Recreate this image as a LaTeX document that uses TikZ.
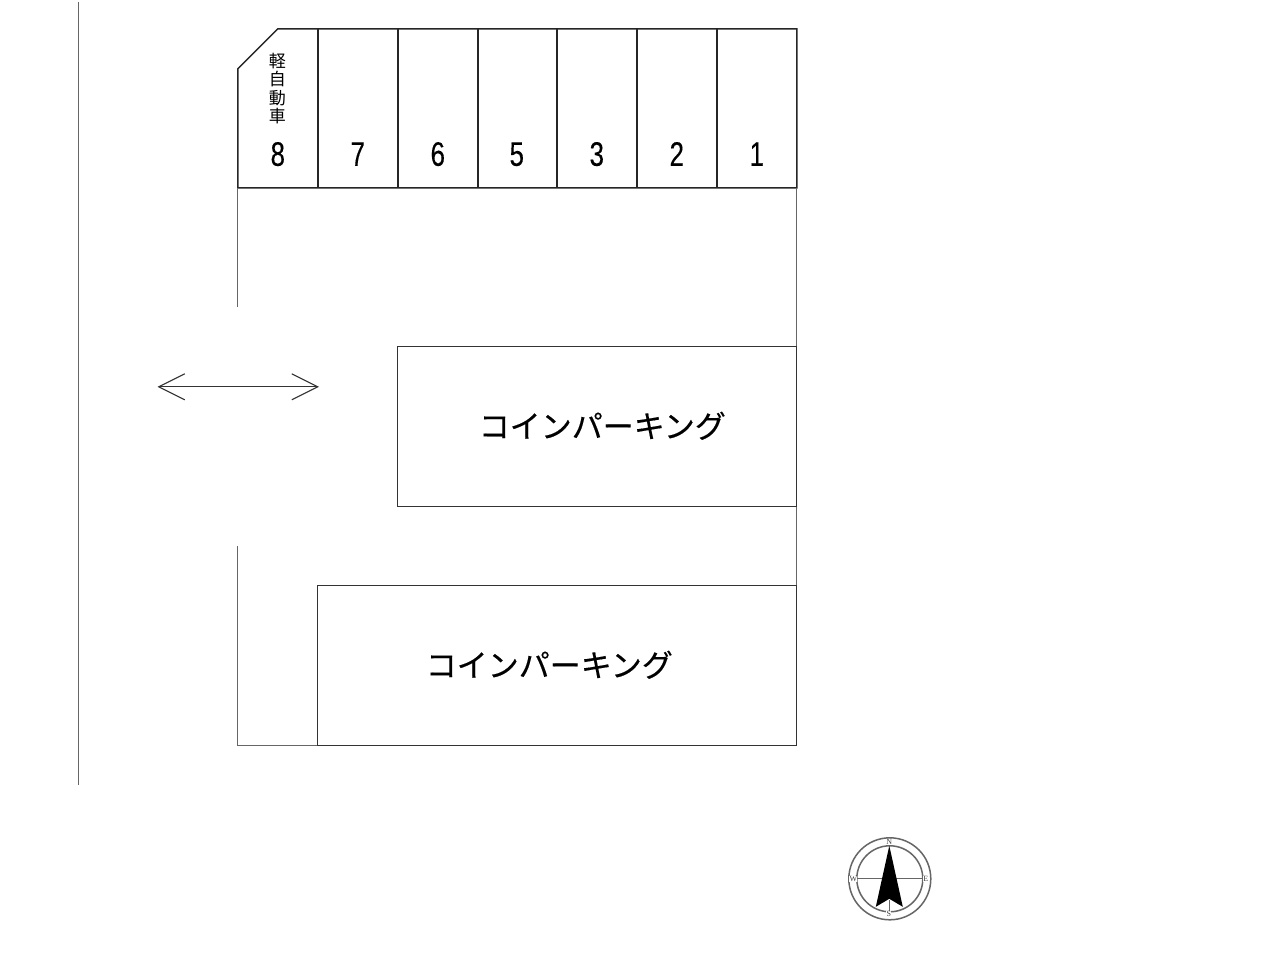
\documentclass[tikz,border=0pt]{standalone}
\usepackage{graphicx}
\usepackage{fontspec}
\setmainfont[FakeBold=0.3]{Liberation Sans}
\newfontfamily\cjk[FakeBold=0.35]{Noto Sans CJK JP}
\newfontfamily\cjkk{Noto Sans CJK JP}
\newfontfamily\cserif{Liberation Serif}
\tikzset{
 plan/.style={draw=black!80,line width=1.1pt},
 thin plan/.style={draw=black!60,line width=1.2pt},
 stall/.style={draw=black!85,line width=1.4pt},
 num/.style={inner sep=0pt,anchor=base,font=\fontsize{34}{34}\selectfont},
 kana/.style={inner sep=0pt,font=\cjk\fontsize{31}{31}\selectfont},
 kei/.style={inner sep=0pt,font=\cjkk\fontsize{17}{18.5}\selectfont,align=center},
 compass/.style={inner sep=.4pt,fill=white,font=\cserif\fontsize{8}{8}\selectfont,text=black!75},
}
\newcommand{\nar}[1]{\scalebox{.76}[1]{#1}}
\begin{document}
\begin{tikzpicture}[x=1pt,y=-1pt]
\useasboundingbox (0.2,0.2) rectangle (1278.2,956.2);
\fill[white] (0.2,0.2) rectangle (1278.2,956.2);
% road edge
\draw[thin plan] (79,2) -- (79,785);
% stalls
\draw[stall] (238,69) -- (278,29) -- (797,29) -- (797,188) -- (238,188) -- cycle;
\foreach \x in {318,398,478,557,637,717} \draw[stall] (\x,29) -- (\x,188);
% site outline
\draw[thin plan] (238,188) -- (238,307);
\draw[thin plan] (797,188) -- (797,347);
\draw[thin plan] (797,507) -- (797,586);
\draw[thin plan] (238,546) -- (238,746) -- (318,746);
% buildings
\draw[plan] (398,347) rectangle (797,507);
\draw[plan] (318,586) rectangle (797,746);
\node[kana] (cpa) at (602.5,426) {コインパーキング};
\node[kana] (cpb) at (549.5,665) {コインパーキング};
% stall numbers
\node[num] (n8) at (278,166) {\nar{8}};
\node[num] (n7) at (358,166) {\nar{7}};
\node[num] (n6) at (438,166) {\nar{6}};
\node[num] (n5) at (517,166) {\nar{5}};
\node[num] (n3) at (597,166) {\nar{3}};
\node[num] (n2) at (677,166) {\nar{2}};
\node[num] (n1) at (757,166) {\nar{1}};
\node[kei] (kei) at (277.5,89) {軽\\自\\動\\車};
% entrance arrow
\coordinate (al) at (159,387);
\coordinate (ar) at (318,387);
\draw[plan] (al) -- (ar);
\draw[plan] (185,374) -- (al) -- (185,400);
\draw[plan] (292,374) -- (ar) -- (292,400);
% compass
\coordinate (c) at (890,879);
\draw[thin plan,line width=1.5pt] (c) circle (41);
\draw[thin plan,line width=1.5pt] (c) circle (33);
\draw[draw=black!60,line width=1pt] (856,879) -- (924,879);
\draw[draw=black!60,line width=1pt] (889.5,900) -- (889.5,914);
\fill[black] (889.5,846) -- (903,907) -- (889.5,899) -- (876,907) -- cycle;
\node[compass] (cn) at (889.5,842.5) {N};
\node[compass] (cs) at (889,914.5) {S};
\node[compass] (cw) at (853.5,879) {W};
\node[compass] (ce) at (926,879) {E};
\end{tikzpicture}
\end{document}
